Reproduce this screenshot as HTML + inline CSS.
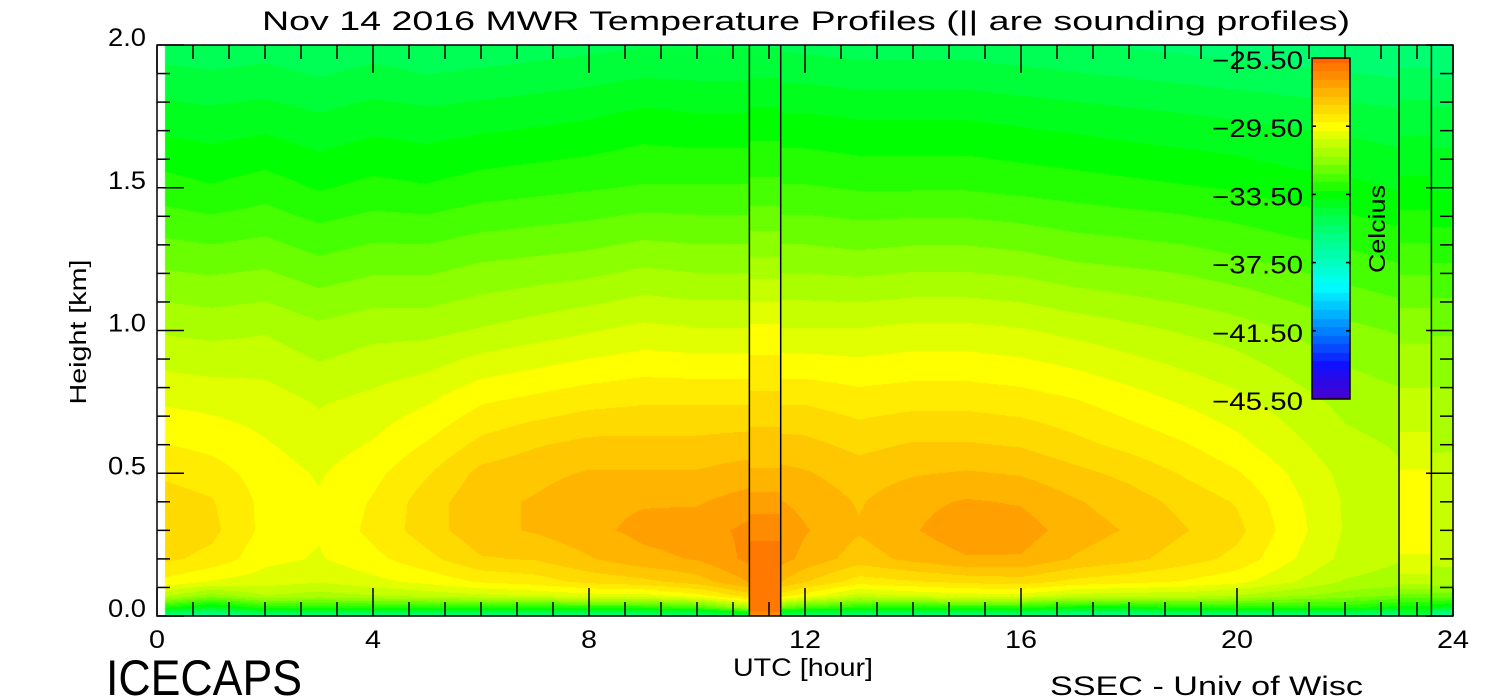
<!DOCTYPE html>
<html><head><meta charset="utf-8"><style>
html,body{margin:0;padding:0;background:#fff;width:1500px;height:700px;overflow:hidden}
#wrap{position:relative;width:1500px;height:700px}
canvas,svg{position:absolute;left:0;top:0}
text{font-family:"Liberation Sans",sans-serif;fill:#000}
</style></head><body>
<div id="wrap">
<canvas id="cv" width="1500" height="700"></canvas>
<svg id="sv" width="1500" height="700"></svg>
</div>
<script>
const heights=[0,0.03,0.07,0.12,0.2,0.3,0.4,0.5,0.6,0.75,1.0,1.25,1.5,1.75,2.0];
const times=[0,1,2,3,4,5,6,7,8,9,10,11,12,13,14,15,16,17,18,19,20,21,22,23,24];
const temps=[
[-36,-33,-30.5,-29.3,-28.6,-28.4,-28.5,-28.8,-29.2,-29.8,-30.8,-31.9,-33,-34,-35],
[-36.5,-34,-31.5,-29.8,-28.9,-28.6,-28.7,-29,-29.4,-29.9,-30.9,-32,-33.2,-34.1,-35.1],
[-36,-33,-30.8,-30,-29.6,-29.4,-29.4,-29.5,-29.7,-30,-30.8,-31.9,-33,-34,-35],
[-36,-33,-31,-30.2,-29.8,-29.7,-29.7,-29.8,-30,-30.3,-31.1,-32.2,-33.3,-34.2,-35.2],
[-36,-33,-30.8,-29.9,-29.4,-29.1,-29.2,-29.4,-29.7,-30.1,-30.9,-32,-33.1,-34,-35],
[-36,-33,-30.6,-29.6,-28.9,-28.5,-28.5,-28.8,-29.2,-29.8,-30.9,-32,-33.2,-34.1,-35.2],
[-36,-33,-30.4,-29.2,-28.3,-27.9,-27.9,-28.1,-28.6,-29.3,-30.7,-31.8,-33,-34,-35.1],
[-36,-33,-30.2,-29,-28.2,-27.7,-27.7,-27.9,-28.3,-29.1,-30.5,-31.7,-32.9,-33.9,-35],
[-36,-33,-30,-28.6,-27.8,-27.4,-27.4,-27.7,-28.1,-28.9,-30.3,-31.6,-32.8,-33.8,-34.9],
[-36,-33,-30,-28.4,-27.4,-27.1,-27.3,-27.7,-28.1,-28.8,-30.1,-31.4,-32.7,-33.6,-34.8],
[-36,-32.5,-29.5,-28,-27.2,-27,-27.3,-27.7,-28.1,-28.8,-30.2,-31.5,-32.7,-33.7,-34.8],
[-35,-31,-28.5,-27.2,-26.6,-26.6,-27,-27.5,-28,-28.8,-30.2,-31.5,-32.7,-33.7,-34.8],
[-36,-32.5,-29.5,-28.2,-27.4,-27.2,-27.4,-27.7,-28.1,-28.8,-30.2,-31.5,-32.7,-33.7,-34.9],
[-36,-33,-30.5,-29,-28,-27.7,-27.8,-28,-28.4,-29,-30.2,-31.6,-32.8,-33.8,-35],
[-36,-33,-30.2,-28.8,-27.6,-27.3,-27.4,-27.8,-28.2,-28.9,-30.1,-31.5,-32.8,-33.8,-35],
[-36,-33,-30,-28.6,-27.3,-26.9,-27.2,-27.7,-28.2,-28.9,-30.1,-31.5,-32.8,-33.8,-35],
[-36,-33,-30,-28.5,-27.3,-27,-27.3,-27.8,-28.3,-29,-30.2,-31.6,-32.9,-33.9,-35.1],
[-36.5,-33.5,-30.5,-28.9,-27.8,-27.5,-27.7,-28.1,-28.6,-29.2,-30.4,-31.8,-33,-34,-35.2],
[-36.5,-33.5,-30.6,-29.1,-28.1,-27.8,-28,-28.4,-28.9,-29.5,-30.6,-31.9,-33.1,-34.1,-35.3],
[-36,-33,-30.6,-29.3,-28.5,-28.2,-28.4,-28.8,-29.2,-29.8,-30.8,-32,-33.2,-34.2,-35.4],
[-36,-33,-30.8,-29.6,-28.9,-28.6,-28.8,-29.2,-29.6,-30.1,-31,-32.2,-33.3,-34.3,-35.5],
[-36,-33,-31.2,-30.2,-29.7,-29.5,-29.6,-29.8,-30.1,-30.5,-31.3,-32.4,-33.5,-34.4,-35.6],
[-36,-33,-31.5,-30.8,-30.4,-30.3,-30.3,-30.4,-30.6,-30.9,-31.6,-32.6,-33.6,-34.5,-35.7],
[-36.5,-33.5,-31.8,-31,-30.7,-30.6,-30.6,-30.7,-30.8,-31.1,-31.8,-32.8,-33.8,-34.6,-35.8],
[-37,-34,-32,-31,-30.6,-30.5,-30.5,-30.6,-30.8,-31.1,-31.8,-32.8,-33.8,-34.6,-35.8]];
const soundingTimes=[[10.97,11.55],[23.0,23.6]];
const soundingTemps=[
[-26.5,-26,-26,-26,-26,-26.4,-27,-27.7,-28,-28.6,-29.6,-31.2,-32.6,-33.6,-34.8],
[-35,-33.5,-32,-30.5,-29.8,-29.5,-29.4,-29.7,-30.1,-30.6,-31.4,-32.5,-33.6,-34.5,-35.6]];
const xTicks=[0,4,8,12,16,20,24];
const yTicks=[0,0.5,1.0,1.5,2.0];
const cbLabels=["-25.50","-29.50","-33.50","-37.50","-41.50","-45.50"];

const X0=157,X1=1453,Y0=616,Y1=45,IMG0=165;
const xs=t=>X0+(X1-X0)*t/24, ys=h=>Y0-(Y0-Y1)*h/2;
const stops=[[0,[74,0,200]],[0.1,[16,16,255]],[0.2,[0,128,255]],[0.33,[0,255,255]],[0.4,[0,255,192]],[0.5,[0,255,112]],[0.6,[0,255,0]],[0.7,[140,255,0]],[0.8,[255,255,0]],[0.9,[255,180,0]],[1,[255,100,0]]];
function cmap(v){let f=(v+45.5)/20;f=Math.max(0,Math.min(1,f));for(let i=1;i<stops.length;i++){if(f<=stops[i][0]){const a=stops[i-1],b=stops[i],u=(f-a[0])/(b[0]-a[0]);return a[1].map((c,k)=>Math.round(c+(b[1][k]-c)*u));}}return stops[stops.length-1][1];}
function profAt(p,h){for(let i=1;i<heights.length;i++){if(h<=heights[i]){const u=(h-heights[i-1])/(heights[i]-heights[i-1]);return p[i-1]+(p[i]-p[i-1])*u;}}return p[p.length-1];}
const cv=document.getElementById('cv'),ctx=cv.getContext('2d');
const W=X1-IMG0,H=Y0-Y1,img=ctx.createImageData(W,H);
for(let py=0;py<H;py++){const h=(Y0-(Y1+py+0.5))*2/(Y0-Y1);
 const col=times.map((t,i)=>profAt(temps[i],h));
 const sc=soundingTemps.map(p=>profAt(p,h));
 for(let px=0;px<W;px++){const t=(IMG0+px+0.5-X0)*24/(X1-X0);let v;
  let s=-1;soundingTimes.forEach((r,k)=>{if(t>=r[0]&&t<r[1])s=k;});
  if(s>=0)v=sc[s];else{let i=Math.min(23,Math.floor(t));const u=t-times[i];v=col[i]+(col[i+1]-col[i])*u;}
  v=Math.round(v*2)/2;const c=cmap(v);const o=(py*W+px)*4;img.data[o]=c[0];img.data[o+1]=c[1];img.data[o+2]=c[2];img.data[o+3]=255;}}
ctx.putImageData(img,IMG0,Y1);
const CX=1312,CY0=58,CY1=399;
for(let y=CY0;y<CY1;y++){let v=-25.5-20*(y-CY0)/(CY1-CY0);v=Math.round(v*2)/2;const c=cmap(v);ctx.fillStyle=`rgb(${c})`;ctx.fillRect(CX,y,38,1);}

const NS='http://www.w3.org/2000/svg',sv=document.getElementById('sv');
function el(tag,attrs,txt){const e=document.createElementNS(NS,tag);for(const k in attrs)e.setAttribute(k,attrs[k]);if(txt!==undefined)e.textContent=txt;sv.appendChild(e);return e;}
let e;
e=el('rect',{x:X0,y:Y1,width:X1-X0,height:H,fill:'none',stroke:'#000','stroke-width':1.5});

soundingTimes.forEach(r=>r.forEach(t=>{e=el('line',{x1:xs(t),x2:xs(t),y1:Y1,y2:Y0,stroke:'#000','stroke-width':1.5});
}));
for(let k=0;k<=36;k++){const t=k*24/36,maj=k%6===0,L=maj?28:14;
 e=el('line',{x1:xs(t),x2:xs(t),y1:Y0,y2:Y0-L,stroke:'#000','stroke-width':1.5});
 e=el('line',{x1:xs(t),x2:xs(t),y1:Y1,y2:Y1+L,stroke:'#000','stroke-width':1.5});}
for(let k=0;k<=20;k++){const h=k*0.1,maj=k%5===0,L=maj?27:13;
 e=el('line',{x1:X0,x2:X0+L,y1:ys(h),y2:ys(h),stroke:'#000','stroke-width':1.5});
 e=el('line',{x1:X1,x2:X1-L,y1:ys(h),y2:ys(h),stroke:'#000','stroke-width':1.5});}
xTicks.forEach(t=>{const s=String(t);e=el('text',{x:xs(t),y:648,'font-size':25,'text-anchor':'middle',textLength:s.length*16,lengthAdjust:'spacingAndGlyphs'},s);});
yTicks.forEach(h=>{e=el('text',{x:146,y:ys(h)+1,'font-size':25,'text-anchor':'end',textLength:38,lengthAdjust:'spacingAndGlyphs'},h.toFixed(1));});
e=el('text',{x:262,y:30,'font-size':27,textLength:1088,lengthAdjust:'spacingAndGlyphs'},'Nov 14 2016 MWR Temperature Profiles (|| are sounding profiles)');
e=el('text',{x:0,y:0,'font-size':23,'text-anchor':'middle',textLength:145,lengthAdjust:'spacingAndGlyphs',transform:'translate(86,332) rotate(-90)'},'Height [km]');
e=el('text',{x:733,y:676,'font-size':25,textLength:140,lengthAdjust:'spacingAndGlyphs'},'UTC [hour]');
e=el('text',{x:106,y:695,'font-size':50,textLength:196,lengthAdjust:'spacingAndGlyphs'},'ICECAPS');
e=el('text',{x:1050,y:695,'font-size':27,textLength:313,lengthAdjust:'spacingAndGlyphs'},'SSEC - Univ of Wisc');
e=el('rect',{x:CX,y:CY0,width:38,height:CY1-CY0,fill:'none',stroke:'#000','stroke-width':1.5});
cbLabels.forEach((s,i)=>{const y=CY0+(CY1-CY0)*i/5;
 e=el('text',{x:1212,y:y+11,'font-size':25,textLength:91,lengthAdjust:'spacingAndGlyphs'},s.replace('-','\u2212'));
 if(i>0&&i<5){e=el('line',{x1:CX,x2:CX+4,y1:y,y2:y,stroke:'#000','stroke-width':1.5});
 e=el('line',{x1:CX+38,x2:CX+34,y1:y,y2:y,stroke:'#000','stroke-width':1.5});}});
e=el('text',{x:0,y:0,'font-size':23,'text-anchor':'middle',textLength:88,lengthAdjust:'spacingAndGlyphs',transform:'translate(1385,229) rotate(-90)'},'Celcius');
</script>
</body></html>
